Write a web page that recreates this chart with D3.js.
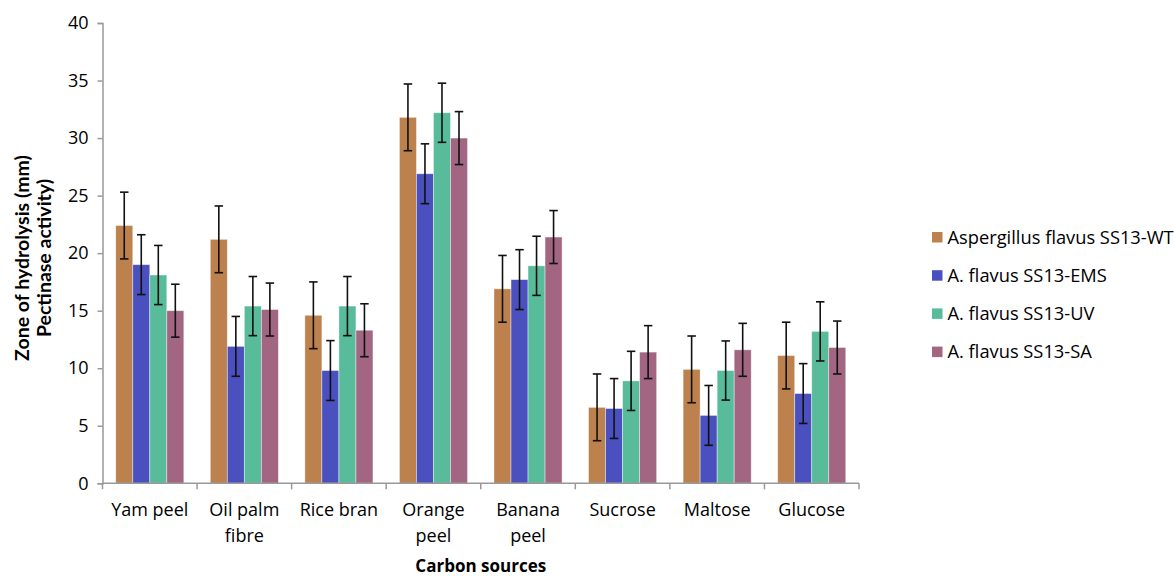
<!DOCTYPE html>
<html>
<head>
<meta charset="utf-8">
<script src="https://cdn.jsdelivr.net/npm/d3@7"></script>
<style>
  html, body { margin: 0; padding: 0; background: #fff; }
  svg { display: block; }
  text { font-family: "Open Sans", Lato, sans-serif; fill: #000; }
</style>
</head>
<body>
<svg id="chart" width="1174" height="576"></svg>
<script>
// Carbon sources on the x axis
const categories = ["Yam peel", "Oil palm fibre", "Rice bran", "Orange peel", "Banana peel", "Sucrose", "Maltose", "Glucose"];
// Wrapped label lines for the category axis
const categoryLines = [["Yam peel"], ["Oil palm", "fibre"], ["Rice bran"], ["Orange", "peel"], ["Banana", "peel"], ["Sucrose"], ["Maltose"], ["Glucose"]];

const seriesNames = ["Aspergillus flavus SS13-WT", "A. flavus SS13-EMS", "A. flavus SS13-UV", "A. flavus SS13-SA"];
const seriesColors = ["#bd814e", "#4b50bf", "#58bb9a", "#a26682"];

// Zone of hydrolysis (mm) per strain
const wtValues  = [22.4, 21.2, 14.6, 31.8, 16.9, 6.6, 9.9, 11.1];
const emsValues = [19.0, 11.9, 9.8, 26.9, 17.7, 6.5, 5.9, 7.8];
const uvValues  = [18.1, 15.4, 15.4, 32.2, 18.9, 8.9, 9.8, 13.2];
const saValues  = [15.0, 15.1, 13.3, 30.0, 21.4, 11.4, 11.6, 11.8];

// Error bar half-widths (mm)
const wtErr  = [2.9, 2.9, 2.9, 2.9, 2.9, 2.9, 2.9, 2.9];
const emsErr = [2.6, 2.6, 2.6, 2.6, 2.6, 2.6, 2.6, 2.6];
const uvErr  = [2.57, 2.57, 2.57, 2.57, 2.57, 2.57, 2.57, 2.57];
const saErr  = [2.3, 2.3, 2.3, 2.3, 2.3, 2.3, 2.3, 2.3];

const yTicks = [0, 5, 10, 15, 20, 25, 30, 35, 40];

const seriesValues = [wtValues, emsValues, uvValues, saValues];
const seriesErrors = [wtErr, emsErr, uvErr, saErr];

const margin = { left: 102.5, top: 23 };
const plotW = 859 - margin.left;
const plotH = 483.3 - margin.top;

const svg = d3.select("#chart");
const g = svg.append("g").attr("transform", `translate(${margin.left},${margin.top})`);

const x0 = d3.scaleBand().domain(categories).range([0, plotW]).paddingInner(0.28).paddingOuter(0.14);
const x1 = d3.scaleBand().domain(d3.range(seriesNames.length)).range([0, x0.bandwidth()]);
const y = d3.scaleLinear().domain([0, 40]).range([plotH, 0]);

// Bars
const rows = categories.map((c, i) => seriesNames.map((s, j) => ({
  cat: c, s: j, v: seriesValues[j][i], e: seriesErrors[j][i]
})));

const groups = g.selectAll("g.cat").data(rows).join("g")
  .attr("class", "cat")
  .attr("transform", (d, i) => `translate(${x0(categories[i])},0)`);

groups.selectAll("rect").data(d => d).join("rect")
  .attr("x", d => x1(d.s))
  .attr("y", d => y(d.v))
  .attr("width", x1.bandwidth())
  .attr("height", d => y(0) - y(d.v))
  .attr("fill", d => seriesColors[d.s])
  .attr("stroke", "#ffffff")
  .attr("stroke-opacity", 0.5)
  .attr("stroke-width", 0.8);

// Error bars
const capW = 8.5;
const eb = groups.selectAll("g.err").data(d => d).join("g").attr("class", "err")
  .attr("stroke", "#111").attr("stroke-width", 1.6);
eb.append("line")
  .attr("x1", d => x1(d.s) + x1.bandwidth() / 2)
  .attr("x2", d => x1(d.s) + x1.bandwidth() / 2)
  .attr("y1", d => y(d.v + d.e))
  .attr("y2", d => y(d.v - d.e));
eb.append("line")
  .attr("x1", d => x1(d.s) + x1.bandwidth() / 2 - capW / 2)
  .attr("x2", d => x1(d.s) + x1.bandwidth() / 2 + capW / 2)
  .attr("y1", d => y(d.v + d.e))
  .attr("y2", d => y(d.v + d.e));
eb.append("line")
  .attr("x1", d => x1(d.s) + x1.bandwidth() / 2 - capW / 2)
  .attr("x2", d => x1(d.s) + x1.bandwidth() / 2 + capW / 2)
  .attr("y1", d => y(d.v - d.e))
  .attr("y2", d => y(d.v - d.e));

// Y axis
const yAxis = g.append("g").call(d3.axisLeft(y).tickValues(yTicks).tickSize(5).tickPadding(9));
yAxis.select(".domain").attr("stroke", "#999").attr("stroke-width", 1.5);
yAxis.selectAll(".tick line").attr("stroke", "#999").attr("stroke-width", 1.5);
yAxis.selectAll(".tick text").style("font-size", "18px").style("font-family", "'Open Sans', sans-serif");

// X axis: ticks on category boundaries
const boundaries = d3.range(categories.length + 1).map(i => i * plotW / categories.length);
const xAxisG = g.append("g").attr("transform", `translate(0,${plotH})`);
xAxisG.append("line").attr("x1", 0).attr("x2", plotW).attr("y1", 0).attr("y2", 0)
  .attr("stroke", "#999").attr("stroke-width", 1.5);
xAxisG.selectAll("line.tk").data(boundaries).join("line").attr("class", "tk")
  .attr("x1", d => d).attr("x2", d => d).attr("y1", 0).attr("y2", 6)
  .attr("stroke", "#999").attr("stroke-width", 1.5);

xAxisG.selectAll("text.cl").data(categories).join("text").attr("class", "cl")
  .attr("text-anchor", "middle")
  .attr("transform", d => `translate(${x0(d) + x0.bandwidth() / 2},33)`)
  .style("font-size", "18px")
  .each(function (d, i) {
    d3.select(this).selectAll("tspan").data(categoryLines[i]).join("tspan")
      .attr("x", 0).attr("dy", (t, k) => k === 0 ? 0 : 26).text(t => t);
  });

// Axis titles
svg.append("text").attr("x", margin.left + plotW / 2).attr("y", 572)
  .attr("text-anchor", "middle").style("font-size", "17px").style("font-weight", "bold")
  .text("Carbon sources");

const yt = svg.append("text").attr("transform", "translate(29,258) rotate(-90)")
  .attr("text-anchor", "middle").style("font-size", "19.5px").style("font-weight", "bold")
  .style("font-family", "Lato, sans-serif");
yt.append("tspan").attr("x", 0).attr("dy", 0).text("Zone of hydrolysis (mm)");
yt.append("tspan").attr("x", 0).attr("dy", 21.5).text("Pectinase activity)");

// Legend
const legend = svg.append("g").attr("transform", "translate(932,237)");
const li = legend.selectAll("g").data(seriesNames).join("g")
  .attr("transform", (d, i) => `translate(0,${i * 38.2})`);
li.append("rect").attr("x", 0).attr("y", -5).attr("width", 10.5).attr("height", 10.5)
  .attr("fill", (d, i) => seriesColors[i]);
li.append("text").attr("x", 15.5).attr("y", 6.5).style("font-size", "18.3px").text(d => d);
</script>
</body>
</html>
